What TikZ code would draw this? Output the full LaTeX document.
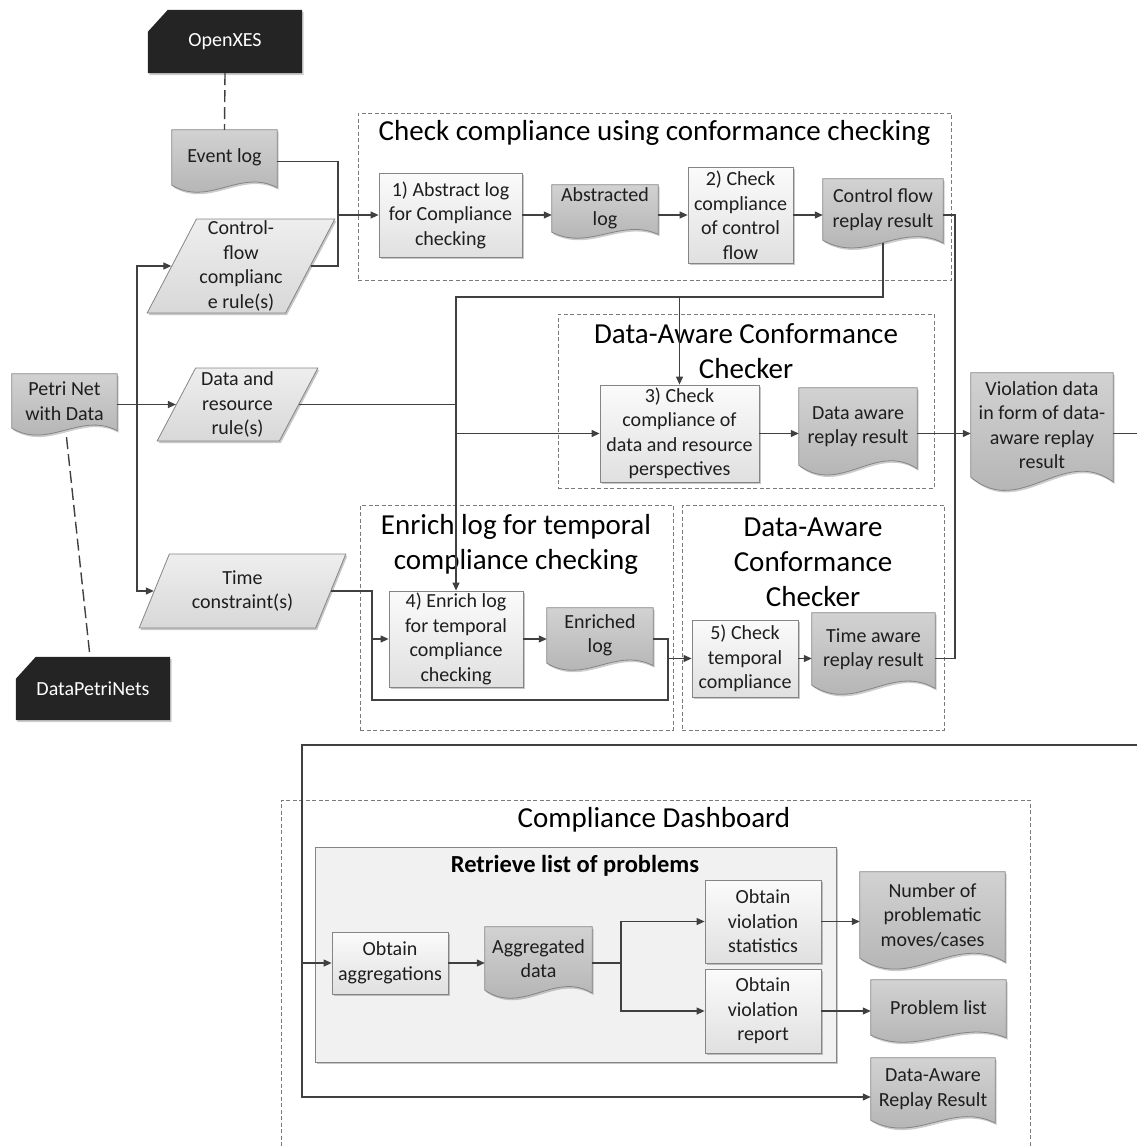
\documentclass[tikz,border=0pt]{standalone}
\usepackage{fontspec}
\setmainfont{Carlito}
\usetikzlibrary{calc,shapes.geometric,shadows,arrows.meta}
\pgfdeclarelayer{back}
\pgfsetlayers{back,main}

\definecolor{ink}{HTML}{1E1E1E}
\definecolor{wirecol}{HTML}{404040}
\definecolor{rimcol}{HTML}{858585}
\definecolor{dashcol}{HTML}{7A7A7A}
\definecolor{docTop}{HTML}{D2D2D2}
\definecolor{docBot}{HTML}{AFAFAF}
\definecolor{boxTop}{HTML}{FBFBFB}
\definecolor{boxBot}{HTML}{E0E0E0}
\definecolor{parTop}{HTML}{EEEEEE}
\definecolor{parBot}{HTML}{D8D8D8}
\definecolor{darkfill}{HTML}{242424}
\definecolor{groupfill}{HTML}{F1F1F1}

\tikzset{
  sz/.style 2 args={minimum width=#1pt, minimum height=#2pt},
  base/.style={font=\fontsize{20}{24.5}\selectfont, text=ink, align=center, inner sep=0pt},
  shade/.style={drop shadow={shadow xshift=1.5pt, shadow yshift=-2pt, opacity=0.22, fill=black}},
  proc/.style={base, rectangle, draw=rimcol, line width=0.8pt, top color=boxTop, bottom color=boxBot, shade},
  para/.style={base, trapezium, trapezium left angle=63, trapezium right angle=117,
    trapezium stretches=true, draw=rimcol, line width=0.8pt, top color=parTop, bottom color=parBot, shade},
  docn/.style={base, rectangle},
  darkn/.style={base, rectangle, text=white},
  docpaint/.style={draw=rimcol, line width=0.8pt, top color=docTop, bottom color=docBot},
  darkpaint/.style={fill=darkfill},
  softshadow/.style={fill=black, opacity=0.2, transform canvas={shift={(1.5pt,-2pt)}}},
  cont/.style={rectangle, draw=dashcol, line width=0.8pt, dash pattern=on 4pt off 2.5pt, inner sep=0pt},
  group/.style={rectangle, draw=rimcol, line width=0.8pt, fill=groupfill, inner sep=0pt, shade},
  title/.style={font=\fontsize{29}{35}\selectfont, text=black, align=center, inner sep=0pt},
  btitle/.style={font=\fontsize{24.5}{30}\selectfont\bfseries, text=black, align=center, inner sep=0pt},
  link/.style={draw=wirecol, line width=1.2pt},
  arr/.style={link, -{Triangle[length=8pt,width=7pt]}},
  dashlink/.style={draw=wirecol, line width=1.4pt, dash pattern=on 12pt off 5pt},
}

% document symbol: box with a wavy lower edge hanging below the node
\newcommand\docshape[1]{%
  \path[softshadow]
    let \p1=(#1.south west), \p2=(#1.north east), \n1={\x2-\x1}, \n2={\y2-\y1} in
    (\p1) -- (\x1,\y2) -- (\p2) -- (\x2,\y1-0.046*\n2)
    .. controls (\x1+0.65*\n1,\y1+0.31*\n2) and (\x1+0.35*\n1,\y1-0.40*\n2) .. (\p1) -- cycle;
  \path[docpaint]
    let \p1=(#1.south west), \p2=(#1.north east), \n1={\x2-\x1}, \n2={\y2-\y1} in
    (\p1) -- (\x1,\y2) -- (\p2) -- (\x2,\y1-0.046*\n2)
    .. controls (\x1+0.65*\n1,\y1+0.31*\n2) and (\x1+0.35*\n1,\y1-0.40*\n2) .. (\p1) -- cycle;}

% dark data-store tag with a cut top-left corner
\newcommand\chamfer[1]{%
  \path[softshadow] let \p1=(#1.south west), \p2=(#1.north east) in
    (\p1) -- (\x1,\y2-22pt) -- (\x1+20pt,\y2) -- (\p2) -- (\x2,\y1) -- cycle;
  \path[darkpaint] let \p1=(#1.south west), \p2=(#1.north east) in
    (\p1) -- (\x1,\y2-22pt) -- (\x1+20pt,\y2) -- (\p2) -- (\x2,\y1) -- cycle;}

\begin{document}
\begin{tikzpicture}[x=1pt,y=-1pt]
\useasboundingbox (0,0) rectangle (1137,1146);

% ---------- group frames ----------
\begin{pgfonlayer}{back}
  \node[cont, sz={593}{167}] (cfbox) at (654.5,196.5) {};
  \node[cont, sz={376}{174}] (dabox) at (746,401) {};
  \node[cont, sz={313}{225}] (enbox) at (516.5,617.5) {};
  \node[cont, sz={262}{225}] (tabox) at (813,617.5) {};
  \node[cont, sz={749}{370}] (dash) at (655.5,985) {};
  \node[group, sz={521}{215}] (retr) at (575.5,954.5) {};
\end{pgfonlayer}

% ---------- titles ----------
\node[title] (t1) at (654.5,133) {Check compliance using conformance checking};
\node[title] (t2) at (746,351) {Data-Aware Conformance\\Checker};
\node[title] (t3) at (516,544.5) {Enrich log for temporal\\compliance checking};
\node[title] (t4) at (813,562) {Data-Aware\\Conformance\\Checker};
\node[title] (t5) at (654,820) {Compliance Dashboard};
\node[btitle] (t6) at (575,866) {Retrieve list of problems};

% ---------- data stores ----------
\node[darkn, sz={154}{63}] (oxes) at (225,41.5) {OpenXES};
\node[darkn, sz={154}{63}] (dpn) at (93,688.5) {DataPetriNets};

% ---------- documents ----------
\node[docn, sz={105}{55}] (evlog) at (224.5,157.5) {Event log};
\node[docn, sz={105}{54}] (petri) at (64.5,401) {Petri Net\\with Data};
\node[docn, sz={106}{47}] (absl) at (605,208.5) {Abstracted\\log};
\node[docn, sz={120}{61}] (cfres) at (883,209.5) {Control flow\\replay result};
\node[docn, sz={118}{77}] (dares) at (858,426.5) {Data aware\\replay result};
\node[docn, sz={142}{104}] (viol) at (1042,425) {Violation data\\in form of data-\\aware replay\\result};
\node[docn, sz={106}{55}] (enrl) at (600,635.5) {Enriched\\log};
\node[docn, sz={123}{72}] (tares) at (873.5,649) {Time aware\\replay result};
\node[docn, sz={107}{63}] (aggd) at (538.5,958.5) {Aggregated\\data};
\node[docn, sz={145}{86}] (num) at (932.5,915) {Number of\\problematic\\moves/cases};
\node[docn, sz={135}{55}] (plist) at (938.5,1007.5) {Problem list};
\node[docn, sz={124}{62}] (darr) at (933,1089) {Data-Aware\\Replay Result};

% ---------- rule inputs ----------
\node[para, sz={188}{94}] (cfrule) at (241,266) {Control-\\flow\\complianc\\e rule(s)};
\node[para, sz={161}{73}] (drr) at (237.5,404.5) {Data and\\resource\\rule(s)};
\node[para, sz={207}{74}] (tc) at (242.5,591) {Time\\constraint(s)};

% ---------- process steps ----------
\node[proc, sz={143}{84}] (abs) at (450.5,215) {1) Abstract log\\for Compliance\\checking};
\node[proc, sz={105}{96}] (chk2) at (740.5,215) {2) Check\\compliance\\of control\\flow};
\node[proc, sz={159}{97}] (chk3) at (679.5,433.5) {3) Check\\compliance of\\data and resource\\perspectives};
\node[proc, sz={134}{96}] (enr4) at (456,639) {4) Enrich log\\for temporal\\compliance\\checking};
\node[proc, sz={106}{77}] (chk5) at (745,658.5) {5) Check\\temporal\\compliance};
\node[proc, sz={116}{62}] (aggr) at (390,963) {Obtain\\aggregations};
\node[proc, sz={116}{83}] (stats) at (763,921.5) {Obtain\\violation\\statistics};
\node[proc, sz={116}{84}] (report) at (763,1011) {Obtain\\violation\\report};

\begin{pgfonlayer}{back}
  \foreach \d in {evlog,petri,absl,cfres,dares,viol,enrl,tares,aggd,num,plist,darr} {\docshape{\d}}
  \chamfer{oxes}
  \chamfer{dpn}
\end{pgfonlayer}

% ---------- connectors ----------
\draw[dashlink] (oxes.south) -- (evlog.north);
\draw[dashlink] ([xshift=2pt,yshift=-9pt]petri.south) -- ([xshift=-3pt]dpn.north);

\coordinate (jn1) at (338,215);
\draw[link] ([yshift=-4pt]evlog.east) -| (jn1);
\draw[link] (cfrule.east) -| (jn1);
\draw[arr] (jn1) -- (abs.west);
\draw[arr] (abs.east) -- (abs.east -| absl.west);
\draw[arr] (chk2.west -| absl.east) -- (chk2.west);
\draw[arr] (chk2.east) -- (chk2.east -| cfres.west);

\coordinate (rbus) at (955,0);
\draw[link] (chk2.east -| cfres.east) -- (chk2.east -| rbus) -- (chk5.east -| rbus) -- (chk5.east -| tares.east);

\coordinate (hbus) at (0,297);
\draw[arr] ([yshift=-3pt]cfres.south) -- (cfres.south |- hbus) -- (enr4.north |- hbus) -- (enr4.north);
\draw[arr] (chk3.north |- hbus) -- (chk3.north);
\draw[arr] (drr.east) -| (enr4.north |- chk3.west) -- (chk3.west);

\draw[arr] (drr.west -| petri.east) -- (drr.west);
\coordinate (lbus) at (137,0);
\draw[arr] (lbus |- drr.west) |- (cfrule.west);
\draw[arr] (lbus |- drr.west) |- (tc.west);

\coordinate (tbus) at (372,700);
\coordinate (ebus) at (668,700);
\draw[arr] (tc.east) -| (tbus |- enr4.west) -- (enr4.west);
\draw[arr] (tbus |- enr4.west) -- (tbus) -- (ebus) -- (ebus |- chk5.west) -- (chk5.west);
\draw[arr] (enr4.east) -- (enr4.east -| enrl.west);
\draw[link] (enr4.east -| enrl.east) -- (enr4.east -| ebus) -- (ebus |- chk5.west);
\draw[arr] (chk5.east) -- (chk5.east -| tares.west);

\draw[arr] (chk3.east) -- (chk3.east -| dares.west);
\draw[arr] (chk3.east -| dares.east) -- (chk3.east -| viol.west);

\coordinate (redge) at (1137,745);
\coordinate (dbus) at (302,745);
\draw[link] (chk3.east -| viol.east) -- (chk3.east -| redge);
\draw[arr] (redge) -- (dbus) |- ([yshift=-8pt]darr.west);
\draw[arr] (dbus |- aggr.west) -- (aggr.west);

\draw[arr] (aggr.east) -- (aggr.east -| aggd.west);
\coordinate (sbus) at (621,963);
\draw[arr] (aggr.east -| aggd.east) -- (sbus) |- (stats.west);
\draw[arr] (sbus) |- (report.west);
\draw[arr] (stats.east) -- (stats.east -| num.west);
\draw[arr] (report.east) -- (report.east -| plist.west);
\end{tikzpicture}
\end{document}
